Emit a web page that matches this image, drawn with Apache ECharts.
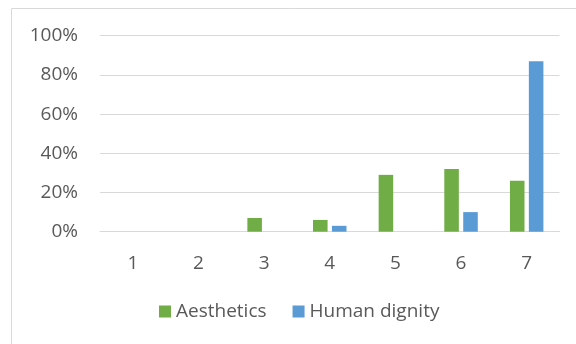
<!DOCTYPE html>
<html>
<head>
<meta charset="utf-8">
<script src="https://cdn.jsdelivr.net/npm/echarts@6/dist/echarts.min.js"></script>
<style>
  html, body { margin: 0; padding: 0; background: #ffffff; }
  #chart { width: 576px; height: 344px; }
</style>
</head>
<body>
<div id="chart"></div>
<script>
// Rating scale categories and share of responses per rating (%)
const categories = ['1', '2', '3', '4', '5', '6', '7'];
const aesthetics = [0, 0, 7, 6, 29, 32, 26];
const humanDignity = [0, 0, 0, 3, 0, 10, 87];
const seriesNames = ['Aesthetics', 'Human dignity'];
const yTicks = [0, 20, 40, 60, 80, 100];

const textColor = '#595959';
const lineColor = '#d9d9d9';
const fontFamily = '"Open Sans", "Liberation Sans", sans-serif';

const chart = echarts.init(document.getElementById('chart'), null, { renderer: 'canvas' });

chart.setOption({
  backgroundColor: '#ffffff',
  animation: false,
  graphic: [{
    type: 'rect',
    shape: { x: 11.5, y: 8.5, width: 700, height: 500 },
    style: { fill: 'none', stroke: lineColor, lineWidth: 1 },
    silent: true,
    z: -1
  }],
  grid: { left: 100, right: 16.5, top: 35.7, bottom: 112.3, containLabel: false },
  legend: {
    data: seriesNames,
    left: 154,
    top: 297,
    icon: 'rect',
    itemWidth: 12,
    itemHeight: 12,
    itemGap: 26,
    textStyle: { color: textColor, fontSize: 19, fontFamily: fontFamily }
  },
  xAxis: {
    type: 'category',
    data: categories,
    axisLine: { show: true, lineStyle: { color: lineColor, width: 1.2 } },
    axisTick: { show: false },
    axisLabel: { color: textColor, fontSize: 19, fontFamily: fontFamily, margin: 22 }
  },
  yAxis: {
    type: 'value',
    min: yTicks[0],
    max: yTicks[yTicks.length - 1],
    interval: yTicks[1] - yTicks[0],
    axisLine: { show: false },
    axisTick: { show: false },
    splitLine: { lineStyle: { color: lineColor, width: 1.2 } },
    axisLabel: {
      color: textColor, fontSize: 19, fontFamily: fontFamily, margin: 22,
      formatter: v => v + '%'
    }
  },
  series: [
    {
      name: seriesNames[0],
      type: 'bar',
      data: aesthetics,
      itemStyle: { color: '#70ad47' },
      barGap: '30%',
      barCategoryGap: '49%'
    },
    {
      name: seriesNames[1],
      type: 'bar',
      data: humanDignity,
      itemStyle: { color: '#5b9bd5' },
      barGap: '30%',
      barCategoryGap: '49%'
    }
  ]
});
</script>
</body>
</html>
